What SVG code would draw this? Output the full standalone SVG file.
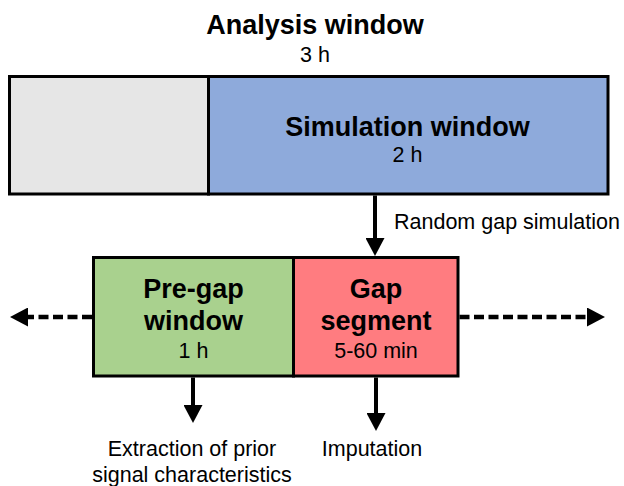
<svg xmlns="http://www.w3.org/2000/svg" width="624" height="486" viewBox="0 0 624 486">
<style>
text{font-family:"Liberation Sans",Arial,sans-serif;fill:#000;text-anchor:middle}
.b{font-weight:bold;font-size:27px}
.n{font-size:21.5px}
.box{stroke:#000;stroke-width:3}
.arr{stroke:#000;stroke-width:4;fill:none}
.dash{stroke-width:4.5;stroke-dasharray:10 4.5}
</style>
<defs>
<marker id="ah" markerUnits="userSpaceOnUse" markerWidth="18" markerHeight="19" refX="8" refY="9.5" orient="auto">
<path d="M0,0 L18,9.5 L0,19 z" fill="#000"/>
</marker>
</defs>
<g id="title">
<text class="b" x="315" y="34">Analysis window</text>
<text class="n" x="315" y="62">3 h</text>
</g>
<g id="analysis-window">
<rect class="box" x="9.5" y="76.5" width="199" height="117.5" fill="#e6e6e6"/>
</g>
<g id="simulation-window">
<rect class="box" x="208.5" y="76.5" width="399.5" height="117.5" fill="#8eaadb"/>
<text class="b" x="407.5" y="136">Simulation window</text>
<text class="n" x="407.5" y="162">2 h</text>
</g>
<g id="pre-gap-window">
<rect class="box" x="93.5" y="257.5" width="200" height="118.5" fill="#a9d18e"/>
<text class="b" x="193.5" y="298">Pre-gap</text>
<text class="b" x="193.5" y="330">window</text>
<text class="n" x="193.5" y="358">1 h</text>
</g>
<g id="gap-segment">
<rect class="box" x="293.5" y="257.5" width="164.5" height="118.5" fill="#ff7c80"/>
<text class="b" x="376" y="298">Gap</text>
<text class="b" x="376" y="330">segment</text>
<text class="n" x="376" y="358">5-60 min</text>
</g>
<g id="connectors">
<line class="arr" x1="375" y1="195.5" x2="375" y2="246" marker-end="url(#ah)"/>
<line class="arr" x1="193" y1="377.5" x2="193" y2="413" marker-end="url(#ah)"/>
<line class="arr" x1="376" y1="377.5" x2="376" y2="421" marker-end="url(#ah)"/>
<line class="arr dash" x1="92" y1="317" x2="20" y2="317" marker-end="url(#ah)"/>
<line class="arr dash" x1="459.5" y1="317" x2="595" y2="317" marker-end="url(#ah)"/>
</g>
<g id="labels">
<text class="n" x="394" y="229" style="text-anchor:start">Random gap simulation</text>
<text class="n" x="192" y="456">Extraction of prior</text>
<text class="n" x="192" y="482">signal characteristics</text>
<text class="n" x="372" y="456">Imputation</text>
</g>
</svg>
